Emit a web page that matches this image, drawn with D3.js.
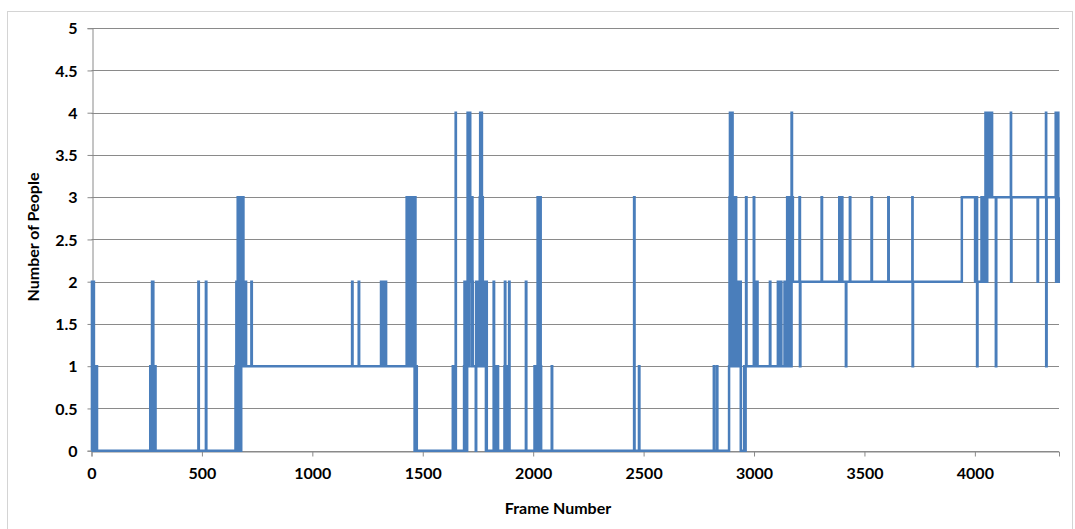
<!DOCTYPE html>
<html>
<head>
<meta charset="utf-8">
<script src="https://cdn.jsdelivr.net/npm/d3@7"></script>
<style>
  html, body { margin: 0; padding: 0; background: #fff; }
  svg { display: block; }
  text { font-family: Lato, "Open Sans", "Liberation Sans", sans-serif; font-weight: bold; fill: #000; }
</style>
</head>
<body>
<svg id="chart" width="1075" height="529"></svg>
<script>
// Frame numbers where the people count changes, and the count from that frame on
const frames = [
  0, 2, 4, 6, 8, 10, 11, 13, 15, 17, 19, 21, 23, 25,
  266, 268, 270, 272, 274, 276, 278, 280, 282, 284, 286, 288, 290,
  484, 486, 518, 520,
  652, 654, 656, 658, 660, 662, 664, 666, 668, 670, 672, 674, 676, 678, 680, 682, 684, 686, 688, 691, 693, 695, 697, 699, 700,
  724, 726,
  1180, 1182, 1210, 1212,
  1311, 1313, 1315, 1318, 1320, 1323, 1326, 1328, 1331, 1334,
  1427, 1429, 1431, 1433, 1435, 1437, 1439, 1441, 1447, 1448, 1453, 1455, 1457, 1459, 1461, 1463, 1465, 1467, 1469, 1471, 1473,
  1636, 1638, 1640, 1642, 1644, 1646, 1648, 1649, 1650,
  1687, 1689, 1691, 1693, 1695, 1697, 1699, 1701, 1703, 1705, 1707, 1709, 1711, 1713, 1715, 1717, 1719, 1721, 1723, 1725, 1727,
  1740, 1742, 1744, 1748, 1750, 1752, 1754, 1756, 1758, 1760, 1762, 1764, 1766, 1768, 1770, 1772, 1774, 1776, 1778, 1780, 1782, 1784, 1786, 1788, 1790,
  1821, 1823, 1831, 1833, 1835, 1837, 1839, 1841,
  1870, 1872, 1874, 1876, 1878, 1880, 1884, 1886, 1891, 1893,
  1967, 1969,
  2006, 2008, 2010, 2012, 2014, 2016, 2018, 2020, 2022, 2024, 2026, 2028, 2030, 2032, 2034, 2036,
  2084, 2086,
  2457, 2459, 2479, 2481,
  2818, 2820, 2832, 2834,
  2887, 2889, 2891, 2893, 2895, 2897, 2899, 2901, 2903, 2905, 2907, 2909, 2911, 2913, 2915, 2917, 2919, 2921, 2924, 2926, 2929, 2932, 2936, 2940, 2955, 2957, 2962, 2964, 2966,
  2999, 3001, 3010, 3012, 3014, 3016,
  3072, 3074,
  3108, 3110, 3112, 3114, 3118, 3120, 3122, 3124,
  3138, 3140,
  3148, 3150, 3152, 3154, 3156, 3158, 3160, 3162, 3164, 3166, 3168, 3170, 3172, 3174, 3176,
  3206, 3208, 3210,
  3306, 3308, 3386, 3388, 3398, 3400, 3416, 3418, 3434, 3436, 3532, 3534, 3608, 3610,
  3717, 3718, 3720,
  3941,
  4001, 4005, 4010, 4012, 4030, 4037, 4040, 4044, 4048, 4050, 4052, 4054, 4056, 4058, 4060, 4062, 4064, 4066, 4068, 4070, 4072, 4074, 4076, 4078,
  4095, 4097,
  4163, 4164, 4166,
  4284, 4286,
  4322, 4323, 4325,
  4366, 4368, 4370, 4376, 4378, 4380
];
const people = [
  0, 2, 1, 2, 1, 2, 1, 0, 1, 0, 1, 0, 1, 0,
  1, 0, 1, 0, 2, 1, 2, 1, 0, 1, 0, 1, 0,
  2, 0, 2, 0,
  1, 0, 2, 0, 2, 3, 0, 3, 1, 0, 3, 2, 0, 3, 1, 3, 1, 3, 1, 2, 1, 2, 1, 2, 1,
  2, 1,
  2, 1, 2, 1,
  2, 1, 2, 1, 2, 1, 2, 1, 2, 1,
  3, 1, 3, 2, 3, 1, 3, 1, 3, 1, 3, 1, 3, 2, 3, 0, 3, 1, 0, 1, 0,
  1, 0, 1, 0, 1, 0, 1, 4, 0,
  1, 2, 0, 2, 1, 2, 0, 2, 4, 3, 1, 3, 2, 4, 3, 2, 3, 1, 3, 2, 1,
  0, 2, 1, 2, 1, 2, 1, 2, 3, 4, 3, 1, 4, 2, 3, 2, 1, 2, 1, 2, 1, 2, 0, 2, 0,
  2, 0, 1, 0, 1, 0, 1, 0,
  1, 2, 1, 0, 1, 0, 1, 0, 2, 0,
  2, 0,
  1, 0, 1, 0, 1, 0, 1, 3, 1, 0, 1, 2, 1, 3, 1, 0,
  1, 0,
  3, 0, 1, 0,
  1, 0, 1, 0,
  1, 3, 4, 2, 4, 3, 1, 4, 2, 3, 1, 3, 2, 3, 1, 3, 2, 1, 2, 1, 2, 1, 2, 0, 1, 0, 1, 3, 1,
  3, 1, 2, 1, 2, 1,
  2, 1,
  2, 1, 2, 1, 2, 1, 2, 1,
  2, 1,
  2, 3, 1, 3, 2, 3, 1, 3, 2, 3, 1, 4, 2, 3, 2,
  3, 1, 2,
  3, 2, 3, 2, 3, 2, 1, 2, 3, 2, 3, 2, 3, 2,
  3, 1, 2,
  3,
  2, 3, 1, 2, 3, 2, 3, 2, 4, 3, 4, 2, 4, 3, 4, 3, 4, 3, 4, 3, 4, 3, 4, 3,
  1, 3,
  4, 2, 3,
  2, 3,
  4, 1, 3,
  4, 2, 3, 4, 2, 3
];

const xTicks = [0, 500, 1000, 1500, 2000, 2500, 3000, 3500, 4000];
const yTicks = [0, 0.5, 1, 1.5, 2, 2.5, 3, 3.5, 4, 4.5, 5];
const xTitle = "Frame Number";
const yTitle = "Number of People";

const series = frames.map((f, i) => ({ frame: f, count: people[i] }));

const svg = d3.select("#chart");
const plot = { left: 91.5, right: 1059, top: 28.2, bottom: 450.7 };

// outer chart frame
svg.append("rect")
  .attr("x", 7.5).attr("y", 11.5)
  .attr("width", 1065).attr("height", 530)
  .attr("fill", "none").attr("stroke", "#d4d4d4").attr("stroke-width", 1);

const x = d3.scaleLinear().domain([0, 4381]).range([plot.left, plot.right]);
const y = d3.scaleLinear().domain([0, 5]).range([plot.bottom, plot.top]);

// horizontal gridlines
svg.append("g")
  .selectAll("line")
  .data(yTicks)
  .join("line")
  .attr("x1", plot.left).attr("x2", plot.right)
  .attr("y1", d => Math.round(y(d)) + 0.5).attr("y2", d => Math.round(y(d)) + 0.5)
  .attr("stroke", "#8a8a8a").attr("stroke-width", 1);

// y axis
const yAxis = svg.append("g")
  .attr("transform", `translate(${Math.round(plot.left) + 0.5},0)`)
  .call(d3.axisLeft(y).tickValues(yTicks).tickSize(5).tickPadding(10).tickFormat(d3.format("~g")));
yAxis.select(".domain").attr("stroke", "#8a8a8a");
yAxis.selectAll(".tick line").attr("stroke", "#8a8a8a");
yAxis.selectAll(".tick text").style("font-size", "16px").attr("dy", "0.36em");

// x axis
const xAxis = svg.append("g")
  .attr("transform", `translate(0,${Math.round(plot.bottom) + 0.5})`)
  .call(d3.axisBottom(x).tickValues(xTicks).tickSize(5).tickPadding(11).tickFormat(d3.format("d")));
xAxis.select(".domain").attr("stroke", "#8a8a8a");
xAxis.selectAll(".tick line").attr("stroke", "#8a8a8a");
xAxis.selectAll(".tick text").style("font-size", "16px");

// people count line
const line = d3.line()
  .x(d => x(d.frame))
  .y(d => y(d.count))
  .curve(d3.curveStepAfter);

svg.append("path")
  .datum(series)
  .attr("d", line)
  .attr("fill", "none")
  .attr("stroke", "#4A7EBB")
  .attr("stroke-width", 2.5);

// axis titles
svg.append("text")
  .attr("x", 558).attr("y", 514)
  .attr("text-anchor", "middle")
  .style("font-size", "16px")
  .text(xTitle);

svg.append("text")
  .attr("transform", "translate(39,237) rotate(-90)")
  .attr("text-anchor", "middle")
  .style("font-size", "16px")
  .text(yTitle);
</script>
</body>
</html>
